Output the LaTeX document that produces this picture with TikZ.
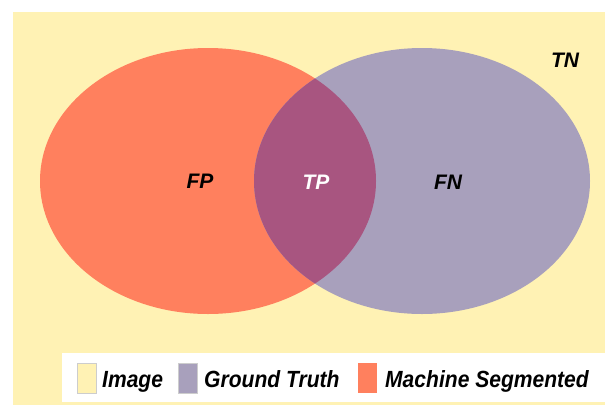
\documentclass[tikz,border=0pt]{standalone}
\usepackage{fontspec}
\usepackage{tikz}
\setmainfont{Liberation Sans}
\newfontfamily\legendfont[FakeStretch=0.9]{Liberation Sans}
\definecolor{imgyellow}{RGB}{255,242,180}
\definecolor{segorange}{RGB}{255,128,94}
\definecolor{truthpurple}{RGB}{168,160,188}
\definecolor{overlap}{RGB}{168,85,128}
\definecolor{swatchgray}{RGB}{205,205,205}

\begin{document}
\begin{tikzpicture}[x=1pt, y=-1pt]
        \tikzstyle{lbl} = [font=\fontsize{21}{25}\selectfont\bfseries\itshape, inner sep=0pt]
        \tikzstyle{legtxt} = [font=\legendfont\fontsize{23.4}{27}\selectfont\bfseries\itshape, inner sep=0pt, anchor=base west]
        \tikzstyle{swatch} = [draw=swatchgray, line width=1pt, minimum width=19pt, minimum height=30pt, inner sep=0pt]
        \useasboundingbox (0,0) rectangle (605,405);
        \fill[imgyellow] (13,12) rectangle (605,405);
        \fill[segorange] (208,181) ellipse (168 and 133);
        \fill[truthpurple] (422,181) ellipse (168 and 133);
        \begin{scope}
          \clip (208,181) ellipse (168 and 133);
          \fill[overlap] (422,181) ellipse (168 and 133);
        \end{scope}
        \node[lbl] (FP) at (200,181) {FP};
        \node[lbl, text=white] (TP) at (316,182) {TP};
        \node[lbl] (FN) at (448,182) {FN};
        \node[lbl] (TN) at (565,60) {TN};
        % legend
        \fill[white] (62,353) rectangle (605,402);
        \node[swatch, fill=imgyellow] (swImage) at (86.5,378) {};
        \node[legtxt] (lgImage) at (102,387) {Image};
        \node[swatch, fill=truthpurple] (swTruth) at (187.5,378) {};
        \node[legtxt] (lgTruth) at (204,387) {Ground Truth};
        \node[swatch, draw=none, fill=segorange] (swSeg) at (367,378) {};
        \node[legtxt] (lgSeg) at (385,387) {Machine Segmented};
      \end{tikzpicture}
\end{document}
